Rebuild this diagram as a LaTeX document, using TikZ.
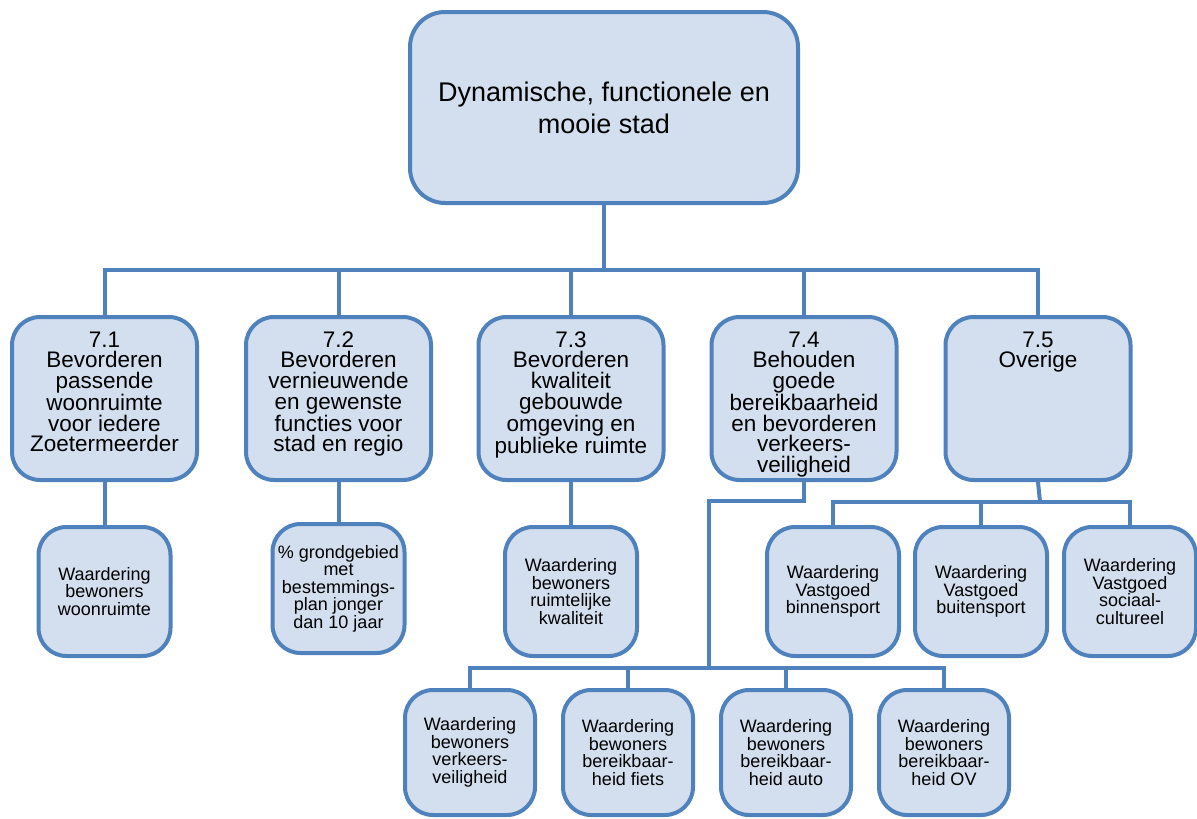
\documentclass[tikz,border=0pt]{standalone}
\usepackage{fontspec}
\setmainfont{Liberation Sans}
\definecolor{lineblue}{RGB}{79,129,189}
\definecolor{fillblue}{RGB}{211,223,238}
\tikzset{
  box/.style={draw=lineblue, fill=fillblue, line width=4pt, rounded corners=28pt, align=center, inner sep=0pt},
  goalbox/.style={box, minimum width=388pt, minimum height=191pt, rounded corners=35pt, font=\fontsize{27}{32}\selectfont},
  subbox/.style={box, minimum width=185pt, minimum height=163pt, font=\fontsize{22.5}{20.7}\selectfont},
  kpibox/.style={box, minimum width=132pt, minimum height=129pt, font=\fontsize{18}{17.5}\selectfont},
  lowbox/.style={kpibox, minimum width=130pt, minimum height=125pt},
  link/.style={draw=lineblue, line width=4pt}
}
% text at the top of a sub goal box
\newcommand{\subtext}[1]{\parbox[c][163pt][t]{180pt}{\centering\rule{0pt}{30pt}#1}}
\begin{document}
\begin{tikzpicture}[x=1pt,y=-1pt]
\useasboundingbox (0,0) rectangle (1197,819);
% main goal
\node[goalbox] (goal) at (604,107.5) {Dynamische, functionele en\\mooie stad};
% sub goals
\node[subbox] (sub1) at (104.5,398.5) {\subtext{7.1\\Bevorderen\\passende\\woonruimte\\voor iedere\\Zoetermeerder}};
\node[subbox] (sub2) at (338.5,398.5) {\subtext{7.2\\Bevorderen\\vernieuwende\\en gewenste\\functies voor\\stad en regio}};
\node[subbox] (sub3) at (571,398.5) {\subtext{7.3\\Bevorderen\\kwaliteit\\gebouwde\\omgeving en\\publieke ruimte}};
\node[subbox] (sub4) at (804,398.5) {\subtext{7.4\\Behouden\\goede\\bereikbaarheid\\en bevorderen\\verkeers-\\veiligheid}};
\node[subbox] (sub5) at (1038,398.5) {\subtext{7.5\\Overige}};
% indicators
\node[kpibox] (ind1) at (104.5,591.5) {Waardering\\bewoners\\woonruimte};
\node[kpibox] (ind2) at (338.5,588.5) {\% grondgebied\\met\\bestemmings-\\plan jonger\\dan 10 jaar};
\node[kpibox] (ind3) at (571,591.5) {Waardering\\bewoners\\ruimtelijke\\kwaliteit};
\node[kpibox] (vg1) at (833,591.5) {Waardering\\Vastgoed\\binnensport};
\node[kpibox] (vg2) at (981,591.5) {Waardering\\Vastgoed\\buitensport};
\node[kpibox] (vg3) at (1130,591.5) {Waardering\\Vastgoed\\sociaal-\\cultureel};
\node[lowbox] (vk1) at (470,752.5) {Waardering\\bewoners\\verkeers-\\veiligheid};
\node[lowbox] (vk2) at (628,752.5) {Waardering\\bewoners\\bereikbaar-\\heid fiets};
\node[lowbox] (vk3) at (786,752.5) {Waardering\\bewoners\\bereikbaar-\\heid auto};
\node[lowbox] (vk4) at (944,752.5) {Waardering\\bewoners\\bereikbaar-\\heid OV};
% junctions
\coordinate (bus) at (604,270);
\coordinate (j4) at (709,501);
\coordinate (k4) at (709,668);
\coordinate (j5) at (1040,502);
% connectors
\draw[link] (goal.south) -- (bus);
\draw[link] (sub1.north) |- (bus) -| (sub5.north);
\draw[link] (sub2.north) -- (sub2.north |- bus);
\draw[link] (sub3.north) -- (sub3.north |- bus);
\draw[link] (sub4.north) -- (sub4.north |- bus);
\draw[link] (sub1.south) -- (ind1.north);
\draw[link] (sub2.south) -- (ind2.north);
\draw[link] (sub3.south) -- (ind3.north);
\draw[link] (sub4.south) |- (j4) -- (k4);
\draw[link] (vk1.north) |- (k4) -| (vk4.north);
\draw[link] (vk2.north) -- (vk2.north |- k4);
\draw[link] (vk3.north) -- (vk3.north |- k4);
\draw[link] (sub5.south) -- (j5);
\draw[link] (vg1.north) |- (j5) -| (vg3.north);
\draw[link] (vg2.north) -- (vg2.north |- j5);
\end{tikzpicture}
\end{document}
